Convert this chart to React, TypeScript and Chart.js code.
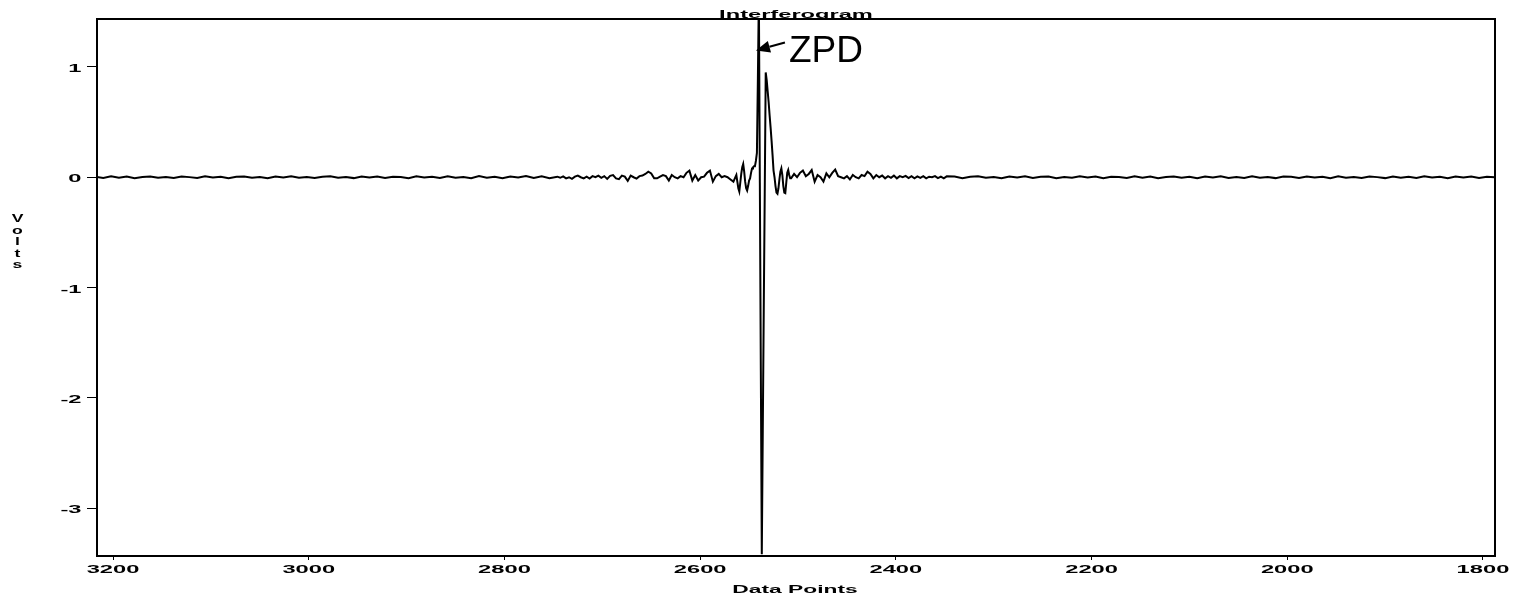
import { useEffect, useRef } from 'react';
import { Chart, registerables } from 'chart.js';

Chart.register(...registerables);

// ---- text ----
const TITLE = 'Interferogram';
const X_TITLE = 'Data Points';
const Y_TITLE = 'Volts';
const ZPD_LABEL = 'ZPD';
const ZPD_ARROW_AT = [2543, 1.15]; // data coordinates of the arrow tip

// ---- axes ----
const X_MIN = 1787.7;
const X_MAX = 3216.4;
const Y_MIN = -3.435;
const Y_MAX = 1.435;
const X_TICKS = [3200, 3000, 2800, 2600, 2400, 2200, 2000, 1800];
const Y_TICKS = [1, 0, -1, -2, -3];

// ---- series (Volts), each segment: first data point, step between points, values ----
const leftTailStart = 3218;
const leftTailStep = 8;
const leftTail = [
  0.004, -0.006, 0.008, -0.004, 0.006, -0.008, 0.003, 0.007, -0.005, 0.002,
  -0.007, 0.006, 0.001, -0.006, 0.008, -0.003, 0.005, -0.008, 0.004, 0.007,
  -0.004, 0.002, -0.009, 0.006, -0.002, 0.008, -0.005, 0.003, -0.007, 0.005,
  0.009, -0.004, 0.001, -0.008, 0.006, -0.003, 0.007, -0.006, 0.004, 0.002,
  -0.009, 0.008, -0.002, 0.005, -0.007, 0.009, -0.004, 0.003, -0.008, 0.01,
  -0.005, 0.004, -0.01, 0.007, -0.003, 0.011, -0.006, 0.008, -0.009,
];

const leftWingStart = 2746;
const leftWingStep = 3;
const leftWing = [
  0.005, -0.005, 0.008, -0.01, 0.0, -0.015, 0.005, 0.015, 0.0, -0.01,
  0.005, -0.012, 0.01, 0.0, 0.015, -0.005, 0.01, -0.015, 0.012, 0.02,
  -0.01, -0.018, 0.015, 0.005, -0.033, 0.015, 0.0, -0.012, 0.01, 0.015,
  0.03, 0.05, 0.035, -0.01, -0.01, 0.005, 0.02, 0.01, -0.03, 0.02,
  0.0, -0.01, 0.01, 0.0, 0.04, 0.06, -0.03, 0.02, -0.03, 0.0,
  0.005, 0.04, 0.06, -0.04, 0.01, 0.03, 0.0, 0.01, 0.0, -0.02,
];

const burstStart = 2566;
const burstStep = 1;
const burst = [
  -0.04, -0.02, 0.0, 0.02, -0.04, -0.1, -0.13, -0.05, 0.03, 0.09,
  0.12, 0.05, -0.04, -0.1, -0.12, -0.08, -0.03, -0.01, 0.04, 0.08,
  0.09, 0.1, 0.1, 0.15, 0.22, 0.9, 1.65, -0.05, -1.75, -3.42,
  -2.3, -1.2, -0.15, 0.95, 0.88, 0.78, 0.68, 0.56, 0.45, 0.33,
  0.2, 0.06, 0.0, -0.08, -0.14, -0.15, -0.1, -0.02, 0.05, 0.08,
  0.02, -0.08, -0.14, -0.145, -0.05, 0.04, 0.065, 0.02, -0.01,
];

const rightWingStart = 2507;
const rightWingStep = 3;
const rightWing = [
  -0.01, 0.03, 0.0, 0.04, 0.06, 0.01, 0.03, 0.065, -0.04, 0.02,
  0.0, -0.04, 0.035, 0.0, 0.04, 0.07, 0.01, 0.0, -0.01, 0.01,
  -0.02, 0.02, 0.0, -0.01, 0.02, 0.01, 0.05, 0.03, -0.01, 0.02,
  0.0, 0.015, -0.01, 0.01, -0.005, 0.015, -0.01, 0.01, 0.0, 0.012,
  -0.008, 0.01, -0.01, 0.008, -0.005, 0.01, -0.01, 0.005, 0.0, 0.01,
  -0.008, 0.006, -0.01, 0.008,
];

const rightTailStart = 2340;
const rightTailStep = 8;
const rightTail = [
  0.006, -0.008, 0.004, 0.009, -0.005, 0.002, -0.009, 0.007, -0.003, 0.008,
  -0.006, 0.004, 0.007, -0.008, 0.003, -0.005, 0.008, -0.002, 0.006, -0.009,
  0.005, 0.002, -0.007, 0.008, -0.004, 0.006, -0.008, 0.003, 0.007, -0.005,
  0.004, -0.009, 0.006, -0.002, 0.008, -0.006, 0.003, -0.007, 0.009, -0.004,
  0.002, -0.008, 0.006, 0.004, -0.006, 0.007, -0.003, 0.005, -0.009, 0.008,
  -0.004, 0.003, -0.007, 0.006, 0.001, -0.008, 0.007, -0.005, 0.004, -0.006,
  0.008, -0.003, 0.005, -0.008, 0.006, -0.002, 0.007, -0.006, 0.004, 0.0,
];

const segments: [number, number, number[]][] = [
  [leftTailStart, leftTailStep, leftTail],
  [leftWingStart, leftWingStep, leftWing],
  [burstStart, burstStep, burst],
  [rightWingStart, rightWingStep, rightWing],
  [rightTailStart, rightTailStep, rightTail],
];

const points = segments.flatMap(([start, step, vals]) =>
  vals.map((v, i) => ({ x: start - i * step, y: v }))
);

const BOLD_FONT = 'bold 11px "Liberation Sans", Arial, sans-serif';
const TICK_FONT_STR = 'bold 11.5px "Liberation Sans", Arial, sans-serif';
const TEXT_STRETCH = 2.06;

function stretchedText(
  ctx: CanvasRenderingContext2D,
  text: string,
  x: number,
  baseline: number,
  font: string,
  sx: number,
  align: CanvasTextAlign = 'center'
) {
  ctx.save();
  ctx.font = font;
  ctx.textAlign = align;
  ctx.textBaseline = 'alphabetic';
  ctx.translate(x, baseline);
  ctx.scale(sx, 1);
  ctx.fillText(text, 0, 0);
  ctx.restore();
}

const decorPlugin = {
  id: 'decor',
  afterDraw(chart: any) {
    const ctx = chart.ctx as CanvasRenderingContext2D;
    const a = chart.chartArea;
    const sx = chart.scales.x;
    const sy = chart.scales.y;
    ctx.save();
    ctx.fillStyle = '#000';
    ctx.strokeStyle = '#000';

    // top and right frame lines
    ctx.lineWidth = 2;
    ctx.beginPath();
    ctx.moveTo(a.left, a.top);
    ctx.lineTo(a.right, a.top);
    ctx.lineTo(a.right, a.bottom);
    ctx.stroke();

    // tick labels at the scale's own tick positions
    sx.ticks.forEach((t: any) => {
      const px = sx.getPixelForValue(t.value);
      stretchedText(ctx, String(t.value), px, a.bottom + 17, TICK_FONT_STR, TEXT_STRETCH);
    });
    sy.ticks.forEach((t: any) => {
      const py = sy.getPixelForValue(t.value);
      stretchedText(ctx, String(t.value), a.left - 15.5, py + 5, TICK_FONT_STR, TEXT_STRETCH, 'right');
    });

    // titles
    stretchedText(ctx, TITLE, (a.left + a.right) / 2, a.top - 1, BOLD_FONT, 2.15);
    stretchedText(ctx, X_TITLE, (a.left + a.right) / 2 - 1, chart.height - 2, BOLD_FONT, 2.07);
    Array.from(Y_TITLE).forEach((ch, i) => {
      stretchedText(ctx, ch, 17.5, a.top + 203 + i * 11.5, BOLD_FONT, 1.6);
    });

    // ZPD annotation
    const tipX = sx.getPixelForValue(ZPD_ARROW_AT[0]);
    const tipY = sy.getPixelForValue(ZPD_ARROW_AT[1]);
    const tailX = tipX + 29;
    const tailY = tipY - 8;
    const ang = Math.atan2(tipY - tailY, tipX - tailX);
    const headLen = 14;
    const headHalf = 6;
    const bx = tipX - headLen * Math.cos(ang);
    const by = tipY - headLen * Math.sin(ang);
    ctx.lineWidth = 2;
    ctx.beginPath();
    ctx.moveTo(tailX, tailY);
    ctx.lineTo(bx, by);
    ctx.stroke();
    ctx.beginPath();
    ctx.moveTo(tipX, tipY);
    ctx.lineTo(bx + headHalf * Math.sin(ang), by - headHalf * Math.cos(ang));
    ctx.lineTo(bx - headHalf * Math.sin(ang), by + headHalf * Math.cos(ang));
    ctx.closePath();
    ctx.fill();

    ctx.font = '37px "Liberation Sans", Arial, sans-serif';
    ctx.textAlign = 'left';
    ctx.textBaseline = 'alphabetic';
    ctx.fillText(ZPD_LABEL, tipX + 33, tipY + 11.5);
    ctx.restore();
  },
};

export default function App() {
  const canvasRef = useRef<HTMLCanvasElement | null>(null);

  useEffect(() => {
    if (!canvasRef.current) return;
    Chart.defaults.color = '#000';
    const chart = new Chart(canvasRef.current, {
      type: 'line',
      data: {
        datasets: [
          {
            data: points,
            borderColor: '#000',
            borderWidth: 2,
            pointRadius: 0,
            tension: 0,
            fill: false,
          },
        ],
      },
      options: {
        animation: false,
        responsive: true,
        maintainAspectRatio: false,
        parsing: false,
        layout: { padding: { top: 19, right: 18, left: 0, bottom: 0 } },
        plugins: {
          legend: { display: false },
          tooltip: { enabled: false },
          title: { display: false },
        },
        scales: {
          x: {
            type: 'linear',
            reverse: true,
            min: X_MIN,
            max: X_MAX,
            ticks: { display: false },
            grid: { drawOnChartArea: false, drawTicks: true, tickLength: 4, color: '#000', lineWidth: 1 },
            border: { display: true, color: '#000', width: 2 },
            afterBuildTicks: (s: any) => {
              s.ticks = X_TICKS.map((v) => ({ value: v }));
            },
            afterFit: (s: any) => {
              s.height = 39;
            },
          },
          y: {
            type: 'linear',
            min: Y_MIN,
            max: Y_MAX,
            ticks: { display: false },
            grid: { drawOnChartArea: false, drawTicks: true, tickLength: 10, color: '#000', lineWidth: 1 },
            border: { display: true, color: '#000', width: 2 },
            afterBuildTicks: (s: any) => {
              s.ticks = Y_TICKS.map((v) => ({ value: v }));
            },
            afterFit: (s: any) => {
              s.width = 97;
            },
          },
        },
      },
      plugins: [decorPlugin],
    } as any);
    return () => chart.destroy();
  }, []);

  return (
    <div style={{ position: 'absolute', left: 0, top: 0, width: 1513, height: 595, background: '#fff' }}>
      <canvas ref={canvasRef} />
    </div>
  );
}
